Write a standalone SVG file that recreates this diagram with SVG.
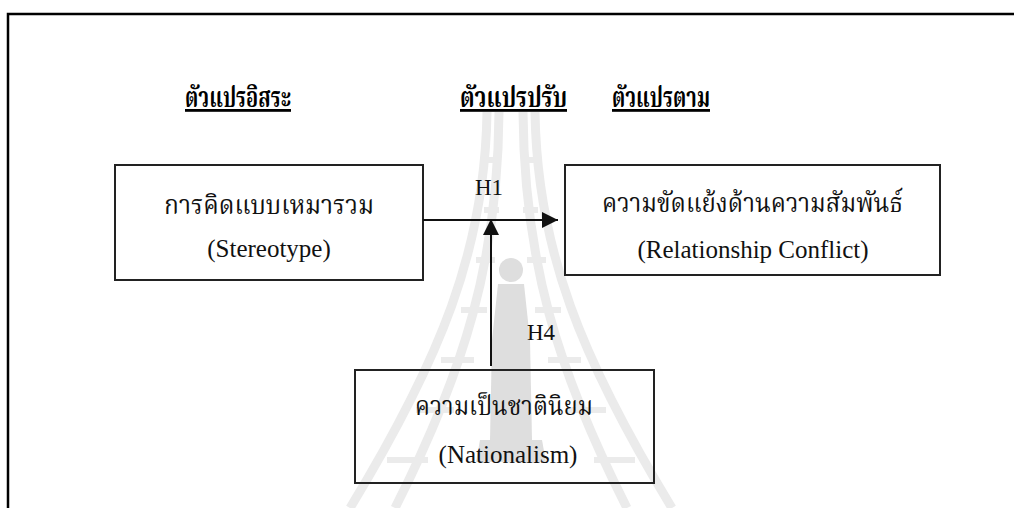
<svg xmlns="http://www.w3.org/2000/svg" width="1014" height="508" viewBox="0 0 1014 508">
  <style>
    .frame { fill: none; stroke: #000; stroke-width: 2.5; }
    .box { fill: none; stroke: #222; stroke-width: 2; }
    .conn { fill: none; stroke: #111; stroke-width: 2; }
    .head { font-family: "Noto Serif Thai", "Noto Sans Thai", serif; font-size: 28px; font-weight: bold; text-decoration: underline; fill: #000; }
    .th { font-family: "Noto Serif Thai", "Noto Sans Thai", serif; font-size: 26px; fill: #111; }
    .en { font-family: "Liberation Serif", "Times New Roman", serif; font-size: 25px; fill: #111; }
    .lbl { font-family: "Liberation Serif", "Times New Roman", serif; font-size: 23px; fill: #111; }
    .rail { fill: none; stroke: #ebebeb; stroke-width: 9; }
    .rung { fill: none; stroke: #ebebeb; stroke-width: 6; }
    .fig { fill: #dedede; }
  </style>
  <defs>
    <marker id="arrow" viewBox="0 0 16 16" refX="16" refY="8" markerWidth="16" markerHeight="16" markerUnits="userSpaceOnUse" orient="auto">
      <path d="M0,0 L16,8 L0,16 z" fill="#111"/>
    </marker>
  </defs>
  <rect width="1014" height="508" fill="#fff"/>

  <!-- faint background emblem: two ladder pillars and a standing figure -->
  <g id="emblem">
    <path class="rail" d="M487,112 C485,250 440,360 350,508"/>
    <path class="rail" d="M499,112 C498,260 465,370 395,508"/>
    <path class="rail" d="M535,112 C537,250 582,360 672,508"/>
    <path class="rail" d="M523,112 C524,260 557,370 627,508"/>
    <path class="rung" d="M486,160 L500,160 M484,210 L499,210 M476,260 L495,260 M461,310 L487,310 M441,360 L474,360 M416,410 L454,410 M387,460 L428,460"/>
    <path class="rung" d="M522,160 L536,160 M523,210 L538,210 M527,260 L546,260 M535,310 L561,310 M548,360 L581,360 M568,410 L606,410 M594,460 L635,460"/>
    <circle class="fig" cx="511" cy="270" r="12"/>
    <path class="fig" d="M498,284 L524,284 L530,340 L532,440 L490,440 L492,340 Z"/>
    <path class="fig" d="M480,440 L542,440 L546,462 L476,462 Z"/>
  </g>

  <!-- outer frame: top and left edges -->
  <path class="frame" d="M8,508 L8,14 L1014,14"/>

  <!-- column headings -->
  <g id="headings">
    <text class="head" x="185" y="107" textLength="106" lengthAdjust="spacingAndGlyphs">ตัวแปรอิสระ</text>
    <text class="head" x="460" y="107" textLength="107" lengthAdjust="spacingAndGlyphs">ตัวแปรปรับ</text>
    <text class="head" x="612" y="107" textLength="98" lengthAdjust="spacingAndGlyphs">ตัวแปรตาม</text>
  </g>

  <g id="stereotype">
    <rect class="box" x="115" y="165" width="308" height="115"/>
    <text class="th" x="164" y="214" textLength="210" lengthAdjust="spacingAndGlyphs">การคิดแบบเหมารวม</text>
    <text class="en" x="269" y="257" text-anchor="middle">(Stereotype)</text>
  </g>

  <g id="relationship-conflict">
    <rect class="box" x="565" y="165" width="375" height="110"/>
    <text class="th" x="602" y="212" textLength="301" lengthAdjust="spacingAndGlyphs">ความขัดแย้งด้านความสัมพันธ์</text>
    <text class="en" x="753" y="258" text-anchor="middle">(Relationship Conflict)</text>
  </g>

  <g id="nationalism">
    <rect class="box" x="355" y="370" width="299" height="113"/>
    <text class="th" x="415" y="415" textLength="178" lengthAdjust="spacingAndGlyphs">ความเป็นชาตินิยม</text>
    <text class="en" x="508" y="463" text-anchor="middle">(Nationalism)</text>
  </g>

  <g id="connectors">
    <line class="conn" x1="423" y1="220" x2="558" y2="220" marker-end="url(#arrow)"/>
    <line class="conn" x1="491" y1="366" x2="491" y2="219" marker-end="url(#arrow)"/>
    <text class="lbl" x="489" y="195" text-anchor="middle">H1</text>
    <text class="lbl" x="541" y="340" text-anchor="middle">H4</text>
  </g>
</svg>
